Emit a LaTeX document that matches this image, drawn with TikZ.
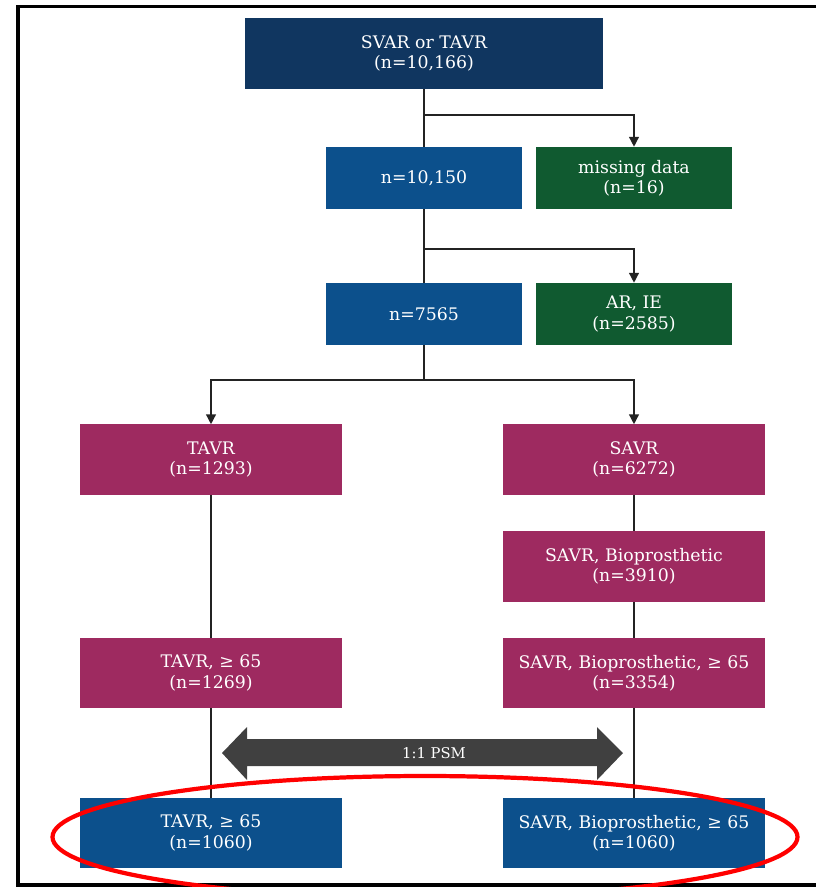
\documentclass[tikz,border=0pt]{standalone}
\usepackage{fontspec}
\setmainfont{DejaVu Serif}
\usetikzlibrary{positioning,calc}
\usetikzlibrary{arrows.meta}
\definecolor{NavyBox}{RGB}{16,54,96}
\definecolor{BlueBox}{RGB}{12,80,140}
\definecolor{GreenBox}{RGB}{16,90,48}
\definecolor{PlumBox}{RGB}{158,42,96}
\definecolor{PsmGray}{RGB}{64,64,64}
\definecolor{LineGray}{RGB}{35,35,35}
\tikzset{
	box/.style={draw=none,text=white,align=center,inner sep=2pt,font=\fontsize{12.3}{14.5}\selectfont},
	top/.style={box,fill=NavyBox,minimum width=8.925cm,minimum height=1.775cm},
	small/.style={box,minimum width=4.9cm,minimum height=1.55cm},
	arm/.style={box,fill=PlumBox,minimum width=6.55cm,minimum height=1.75cm},
	flow/.style={draw=LineGray,line width=1pt},
	flowarrow/.style={flow,-{Triangle[length=7pt,width=7pt]}},
}

\begin{document}
\begin{tikzpicture}[x=0.025cm,y=-0.025cm]
			\useasboundingbox (0,0) rectangle (816,887);
			\draw[line width=2.2pt] (816,6.5) -- (18,6.5) -- (18,885) -- (816,885);
			% screening
			\node[top] (root) at (424,53.5) {SVAR or TAVR\\(n=10,166)};
			\node[small,fill=BlueBox] (kept) at (424,178) {n=10,150};
			\node[small,fill=GreenBox] (missing) at (634,178) {missing data\\(n=16)};
			\node[small,fill=BlueBox] (stenosis) at (424,314) {n=7565};
			\node[small,fill=GreenBox] (excluded) at (634,314) {AR, IE\\(n=2585)};
			\coordinate (cut1) at (424,115);
			\coordinate (cut2) at (424,249);
			\coordinate (split) at (424,380);
			\draw[flow] (root.south) -- (kept.north);
			\draw[flowarrow] (cut1) -| (missing.north);
			\draw[flow] (kept.south) -- (stenosis.north);
			\draw[flowarrow] (cut2) -| (excluded.north);
			\draw[flow] (stenosis.south) -- (split);
			% two arms
			\node[arm] (tavr) at (211,459.5) {TAVR\\(n=1293)};
			\node[arm] (savr) at (634,459.5) {SAVR\\(n=6272)};
			\node[arm] (savrbio) at (634,566.5) {SAVR, Bioprosthetic\\(n=3910)};
			\node[arm] (tavrold) at (211,673) {TAVR, ≥ 65\\(n=1269)};
			\node[arm] (savrold) at (634,673) {SAVR, Bioprosthetic, ≥ 65\\(n=3354)};
			\node[arm,fill=BlueBox] (tavrpsm) at (211,833) {TAVR, ≥ 65\\(n=1060)};
			\node[arm,fill=BlueBox] (savrpsm) at (634,833) {SAVR, Bioprosthetic, ≥ 65\\(n=1060)};
			\draw[flowarrow] (split) -| (tavr.north);
			\draw[flowarrow] (split) -| (savr.north);
			\draw[flow] (tavr.south) -- (tavrold.north);
			\draw[flow] (tavrold.south) -- (tavrpsm.north);
			\draw[flow] (savr.south) -- (savrbio.north);
			\draw[flow] (savrbio.south) -- (savrold.north);
			\draw[flow] (savrold.south) -- (savrpsm.north);
			% matching
			\fill[PsmGray] (222,753) -- (247,727) -- (247,739) -- (597,739) -- (597,727) -- (623,753)
				-- (597,780) -- (597,766) -- (247,766) -- (247,780) -- cycle;
			\node[text=white,font=\fontsize{10.5}{12}\selectfont] (psm) at (434,753) {1:1 PSM};
			\draw[red,line width=3pt] (425,837) ellipse [x radius=372.5,y radius=61];
		\end{tikzpicture}
\end{document}
